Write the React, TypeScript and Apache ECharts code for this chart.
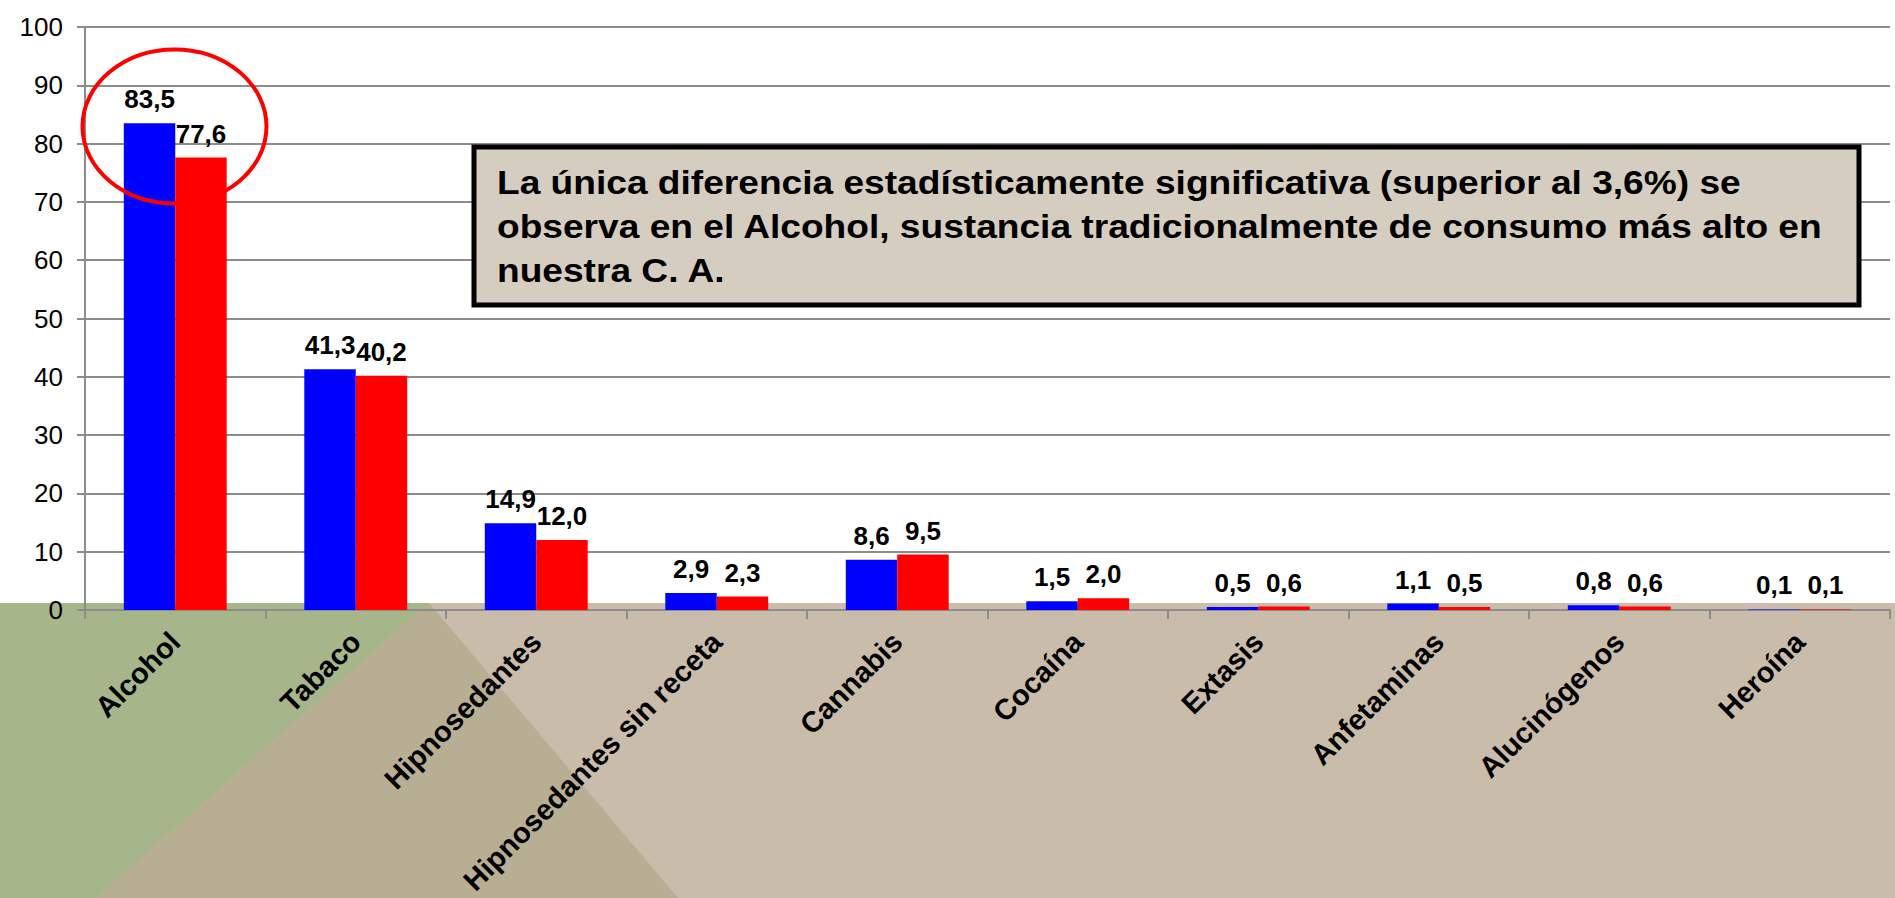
import React, { useEffect, useRef } from "react";
import * as echarts from "echarts";

const categories = [
  "Alcohol",
  "Tabaco",
  "Hipnosedantes",
  "Hipnosedantes sin receta",
  "Cannabis",
  "Cocaína",
  "Extasis",
  "Anfetaminas",
  "Alucinógenos",
  "Heroína",
];
const blueValues = [83.5, 41.3, 14.9, 2.9, 8.6, 1.5, 0.5, 1.1, 0.8, 0.1];
const redValues = [77.6, 40.2, 12.0, 2.3, 9.5, 2.0, 0.6, 0.5, 0.6, 0.1];
const yTicks = [0, 10, 20, 30, 40, 50, 60, 70, 80, 90, 100];
const noteLines = [
  "La única diferencia estadísticamente significativa (superior al 3,6%) se",
  "observa en el Alcohol, sustancia tradicionalmente de consumo más alto en",
  "nuestra C. A.",
];

const FONT = '"Liberation Sans", Arial, sans-serif';

export default function App() {
  const ref = useRef<HTMLDivElement>(null);
  useEffect(() => {
    if (!ref.current) return;
    const chart = echarts.init(ref.current, undefined, { renderer: "svg" });
    const fmt = (p: any) => Number(p.value).toFixed(1).replace(".", ",");
    const labelCfg = {
      show: true,
      position: "top",
      distance: 11,
      formatter: fmt,
      color: "#000",
      fontWeight: "bold",
      fontSize: 26,
      fontFamily: FONT,
    };
    chart.setOption({
      animation: false,
      backgroundColor: "#ffffff",
      grid: { left: 85, right: 5, top: 27, bottom: 288, containLabel: false },
      xAxis: {
        type: "category",
        data: categories,
        axisLine: { show: true, lineStyle: { color: "#8c8c8c", width: 2 } },
        axisTick: { show: true, length: 9, lineStyle: { color: "#8c8c8c", width: 2 } },
        axisLabel: {
          rotate: 45,
          margin: 27,
          interval: 0,
          color: "#000",
          fontWeight: "bold",
          fontSize: 29,
          fontFamily: FONT,
        },
      },
      yAxis: {
        type: "value",
        min: yTicks[0],
        max: yTicks[yTicks.length - 1],
        interval: 10,
        axisLine: { show: true, lineStyle: { color: "#8c8c8c", width: 2 } },
        axisTick: { show: true, length: 8, lineStyle: { color: "#8c8c8c", width: 2 } },
        splitLine: { show: true, lineStyle: { color: "#8c8c8c", width: 2 } },
        axisLabel: {
          margin: 22,
          color: "#000",
          fontSize: 26,
          fontFamily: FONT,
        },
      },
      series: [
        {
          name: "Serie 1",
          type: "bar",
          data: blueValues,
          barWidth: "28.5%",
          barGap: "0%",
          itemStyle: { color: "#0000ff" },
          label: labelCfg,
        },
        {
          name: "Serie 2",
          type: "bar",
          data: redValues,
          barWidth: "28.5%",
          barGap: "0%",
          itemStyle: { color: "#ff0000" },
          label: labelCfg,
        },
      ],
      graphic: [
        {
          type: "rect",
          z: -10,
          silent: true,
          shape: { x: 0, y: 603, width: 1895, height: 295 },
          style: { fill: "#cabcab" },
        },
        {
          type: "polygon",
          z: -9,
          silent: true,
          shape: { points: [[0, 603], [429, 603], [97, 898], [0, 898]] },
          style: { fill: "#a7b68a" },
        },
        {
          type: "polygon",
          z: -9,
          silent: true,
          shape: { points: [[429, 603], [97, 898], [678, 898]] },
          style: { fill: "#b8ae93" },
        },
        {
          type: "ellipse",
          z: 100,
          silent: true,
          shape: { cx: 174.5, cy: 126.5, rx: 92, ry: 77 },
          style: { fill: "none", stroke: "#ff0000", lineWidth: 4 },
        },
        {
          type: "rect",
          z: 100,
          silent: true,
          shape: { x: 474, y: 147, width: 1385, height: 158 },
          style: { fill: "#d6cdc1", stroke: "#000", lineWidth: 5 },
        },
        ...noteLines.map((t, i) => ({
          type: "text",
          z: 101,
          silent: true,
          x: 497,
          y: [182, 226, 270][i],
          scaleX: 1.125,
          style: {
            text: t,
            fill: "#000",
            font: `bold 33px ${FONT}`,
            verticalAlign: "middle",
            align: "left",
          },
        })),
      ],
    });
    return () => chart.dispose();
  }, []);
  return (
    <div
      ref={ref}
      style={{ position: "fixed", left: 0, top: 0, width: 1895, height: 898 }}
    />
  );
}
